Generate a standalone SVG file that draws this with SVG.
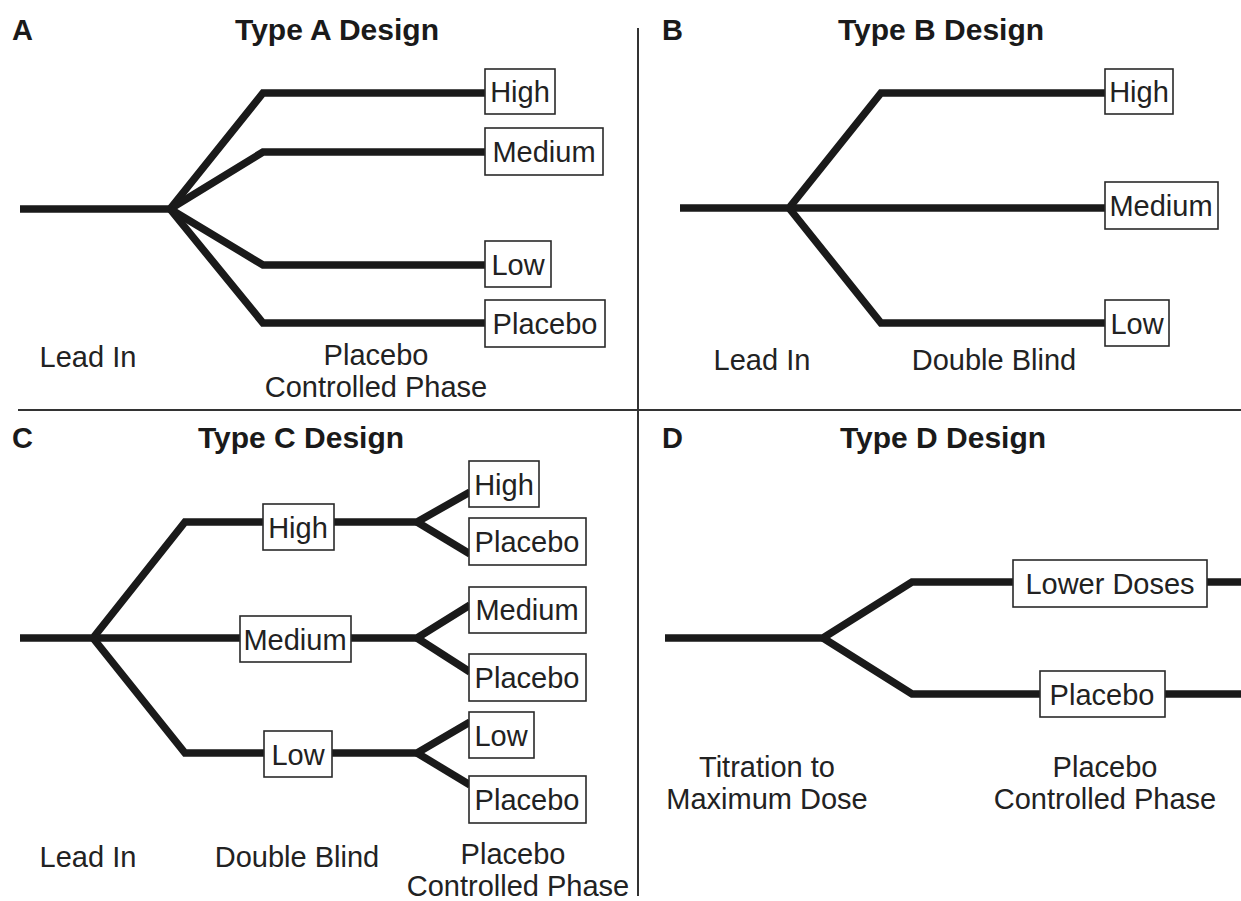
<svg xmlns="http://www.w3.org/2000/svg" width="1241" height="901" viewBox="0 0 1241 901">
  <style>
    .arm { fill: none; stroke: #1a1a1a; stroke-width: 7.5; stroke-linejoin: miter; stroke-linecap: butt; }
    .frame { stroke: #333; stroke-width: 2; fill: none; }
    .box rect { fill: #fff; stroke: #2a2a2a; stroke-width: 1.6; }
    .box text, .lbl { font-family: "Liberation Sans", Arial, sans-serif; font-size: 29px; fill: #222; text-anchor: middle; }
    .ttl { font-family: "Liberation Sans", Arial, sans-serif; font-size: 30px; font-weight: bold; fill: #1a1a1a; text-anchor: middle; }
    .tag { font-family: "Liberation Sans", Arial, sans-serif; font-size: 29px; font-weight: bold; fill: #1a1a1a; }
  </style>
  <rect width="1241" height="901" fill="#fff"/>

  <!-- quadrant dividers -->
  <g id="dividers">
    <line class="frame" x1="638" y1="28" x2="638" y2="896"/>
    <line class="frame" x1="18" y1="410" x2="1241" y2="410"/>
  </g>

  <!-- branching lines -->
  <g id="connectors">
    <!-- A -->
    <path class="arm" d="M20 209 H170 L263 93 H485"/>
    <path class="arm" d="M170 209 L263 152 H485"/>
    <path class="arm" d="M170 209 L263 265 H485"/>
    <path class="arm" d="M170 209 L263 323 H485"/>
    <!-- B -->
    <path class="arm" d="M680 208 H789 L881 93 H1105"/>
    <path class="arm" d="M789 208 H1105"/>
    <path class="arm" d="M789 208 L881 323 H1105"/>
    <!-- C -->
    <path class="arm" d="M20 638 H93 L185 522 H417 L470 492"/>
    <path class="arm" d="M417 522 L470 554"/>
    <path class="arm" d="M93 638 H417 L470 605"/>
    <path class="arm" d="M417 638 L470 672"/>
    <path class="arm" d="M93 638 L185 753 H417 L470 722"/>
    <path class="arm" d="M417 753 L470 785"/>
    <!-- D -->
    <path class="arm" d="M665 638 H823 L912 582 H1241"/>
    <path class="arm" d="M823 638 L912 694 H1241"/>
  </g>

  <!-- Panel A -->
  <g id="panelA">
    <text class="tag" x="12" y="40">A</text>
    <text class="ttl" x="337" y="40">Type A Design</text>
    <g id="a-high" class="box"><rect x="485" y="69" width="70" height="45"/><text x="520" y="102">High</text></g>
    <g id="a-medium" class="box"><rect x="485" y="128" width="118" height="47"/><text x="544" y="162">Medium</text></g>
    <g id="a-low" class="box"><rect x="485" y="241" width="66" height="46"/><text x="518" y="275">Low</text></g>
    <g id="a-placebo" class="box"><rect x="485" y="300" width="120" height="47"/><text x="545" y="334">Placebo</text></g>
    <text class="lbl" x="88" y="367">Lead In</text>
    <text class="lbl" x="376" y="365">Placebo</text>
    <text class="lbl" x="376" y="397">Controlled Phase</text>
  </g>

  <!-- Panel B -->
  <g id="panelB">
    <text class="tag" x="662" y="40">B</text>
    <text class="ttl" x="941" y="40">Type B Design</text>
    <g id="b-high" class="box"><rect x="1105" y="69" width="68" height="45"/><text x="1139" y="102">High</text></g>
    <g id="b-medium" class="box"><rect x="1105" y="182" width="113" height="47"/><text x="1161" y="216">Medium</text></g>
    <g id="b-low" class="box"><rect x="1105" y="300" width="64" height="46"/><text x="1137" y="334">Low</text></g>
    <text class="lbl" x="762" y="370">Lead In</text>
    <text class="lbl" x="994" y="370">Double Blind</text>
  </g>

  <!-- Panel C -->
  <g id="panelC">
    <text class="tag" x="12" y="448">C</text>
    <text class="ttl" x="301" y="448">Type C Design</text>
    <g id="c-high" class="box"><rect x="263" y="504" width="71" height="46"/><text x="298" y="538">High</text></g>
    <g id="c-medium" class="box"><rect x="240" y="616" width="111" height="46"/><text x="295" y="650">Medium</text></g>
    <g id="c-low" class="box"><rect x="264" y="731" width="68" height="46"/><text x="298" y="765">Low</text></g>
    <g id="c-high-high" class="box"><rect x="469" y="461" width="70" height="46"/><text x="504" y="495">High</text></g>
    <g id="c-high-placebo" class="box"><rect x="469" y="518" width="117" height="47"/><text x="527" y="552">Placebo</text></g>
    <g id="c-med-medium" class="box"><rect x="469" y="587" width="117" height="46"/><text x="527" y="620">Medium</text></g>
    <g id="c-med-placebo" class="box"><rect x="469" y="654" width="117" height="47"/><text x="527" y="688">Placebo</text></g>
    <g id="c-low-low" class="box"><rect x="469" y="712" width="65" height="46"/><text x="501" y="746">Low</text></g>
    <g id="c-low-placebo" class="box"><rect x="469" y="776" width="117" height="47"/><text x="527" y="810">Placebo</text></g>
    <text class="lbl" x="88" y="867">Lead In</text>
    <text class="lbl" x="297" y="867">Double Blind</text>
    <text class="lbl" x="513" y="864">Placebo</text>
    <text class="lbl" x="518" y="896">Controlled Phase</text>
  </g>

  <!-- Panel D -->
  <g id="panelD">
    <text class="tag" x="662" y="448">D</text>
    <text class="ttl" x="943" y="448">Type D Design</text>
    <g id="d-lower" class="box"><rect x="1013" y="560" width="194" height="47"/><text x="1110" y="594">Lower Doses</text></g>
    <g id="d-placebo" class="box"><rect x="1040" y="671" width="125" height="46"/><text x="1102" y="705">Placebo</text></g>
    <text class="lbl" x="767" y="777">Titration to</text>
    <text class="lbl" x="767" y="809">Maximum Dose</text>
    <text class="lbl" x="1105" y="777">Placebo</text>
    <text class="lbl" x="1105" y="809">Controlled Phase</text>
  </g>
</svg>
